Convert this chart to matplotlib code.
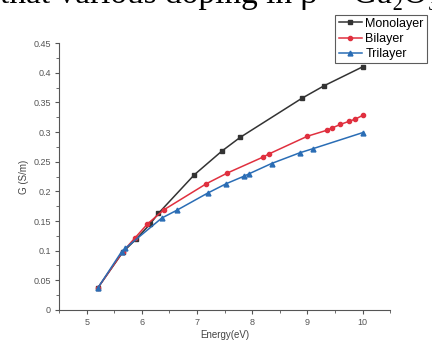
import matplotlib
matplotlib.use('Agg')
import matplotlib.pyplot as plt
from matplotlib.ticker import MultipleLocator

# data
mono_x = [5.2, 5.65, 5.9, 6.15, 6.3, 6.95, 7.45, 7.78, 8.9, 9.3, 10.0]
mono_y = [0.037, 0.097, 0.12, 0.145, 0.163, 0.228, 0.268, 0.291, 0.357, 0.378, 0.41]
bi_x = [5.2, 5.65, 5.87, 6.1, 6.4, 7.17, 7.55, 8.2, 8.3, 9.0, 9.35, 9.45, 9.6, 9.75, 9.87, 10.0]
bi_y = [0.037, 0.098, 0.121, 0.145, 0.169, 0.213, 0.231, 0.258, 0.263, 0.293, 0.303, 0.307, 0.313, 0.318, 0.322, 0.328]
tri_x = [5.2, 5.63, 5.7, 6.36, 6.63, 7.19, 7.53, 7.86, 7.95, 8.35, 8.86, 9.1, 10.0]
tri_y = [0.037, 0.098, 0.104, 0.155, 0.168, 0.197, 0.213, 0.226, 0.23, 0.247, 0.265, 0.272, 0.299]
labels = ['Monolayer', 'Bilayer', 'Trilayer']

plt.rcParams['font.family'] = 'Liberation Sans'
fig = plt.figure(figsize=(4.32, 3.51), dpi=100)
ax = fig.add_axes([0.137, 0.117, 0.766, 0.76])

ax.plot(mono_x, mono_y, '-s', color='#333333', ms=3, lw=1.1, label=labels[0])
ax.plot(bi_x, bi_y, '-o', color='#e0303f', ms=3, lw=1.1, label=labels[1])
ax.plot(tri_x, tri_y, '-^', color='#2a6db5', ms=3.5, lw=1.1, label=labels[2])

ax.set_xlim(4.5, 10.5)
ax.set_ylim(0, 0.45)
ax.xaxis.set_major_locator(MultipleLocator(1))
ax.xaxis.set_minor_locator(MultipleLocator(0.5))
ax.yaxis.set_minor_locator(MultipleLocator(0.025))
ax.set_yticks([0, 0.05, 0.1, 0.15, 0.2, 0.25, 0.3, 0.35, 0.4, 0.45])
ax.set_yticklabels(['0', '0.05', '0.1', '0.15', '0.2', '0.25', '0.3', '0.35', '0.4', '0.45'])
ax.tick_params(which='both', labelsize=6.5, labelcolor='#555555', color='#555555', direction='out')
ax.tick_params(which='major', length=3, pad=3)
ax.tick_params(which='minor', length=2)
for s in ['top', 'right']:
    ax.spines[s].set_visible(False)
for s in ['left', 'bottom']:
    ax.spines[s].set_color('#555555')
    ax.spines[s].set_linewidth(0.8)

ax.set_xlabel('Energy(eV)', fontsize=7, color='#444444', labelpad=2)
ax.set_ylabel('G (S/m)', fontsize=7, color='#444444', labelpad=3)

# legend box runs off the right edge, as in the reference
leg = fig.legend(loc='upper left', bbox_to_anchor=(0.762, 0.976), fontsize=9,
                 frameon=True, fancybox=False, edgecolor='#333333', borderpad=0.25,
                 labelspacing=0.25, handlelength=1.9, handletextpad=0.25)
leg.get_frame().set_linewidth(0.8)

# clipped caption text from the page above the figure
fig.text(0.0, 0.991, 'that various doping in β − Ga₂O₃', fontsize=24,
         family='Liberation Serif', va='baseline', ha='left')

fig.savefig('out.png', dpi=100)
